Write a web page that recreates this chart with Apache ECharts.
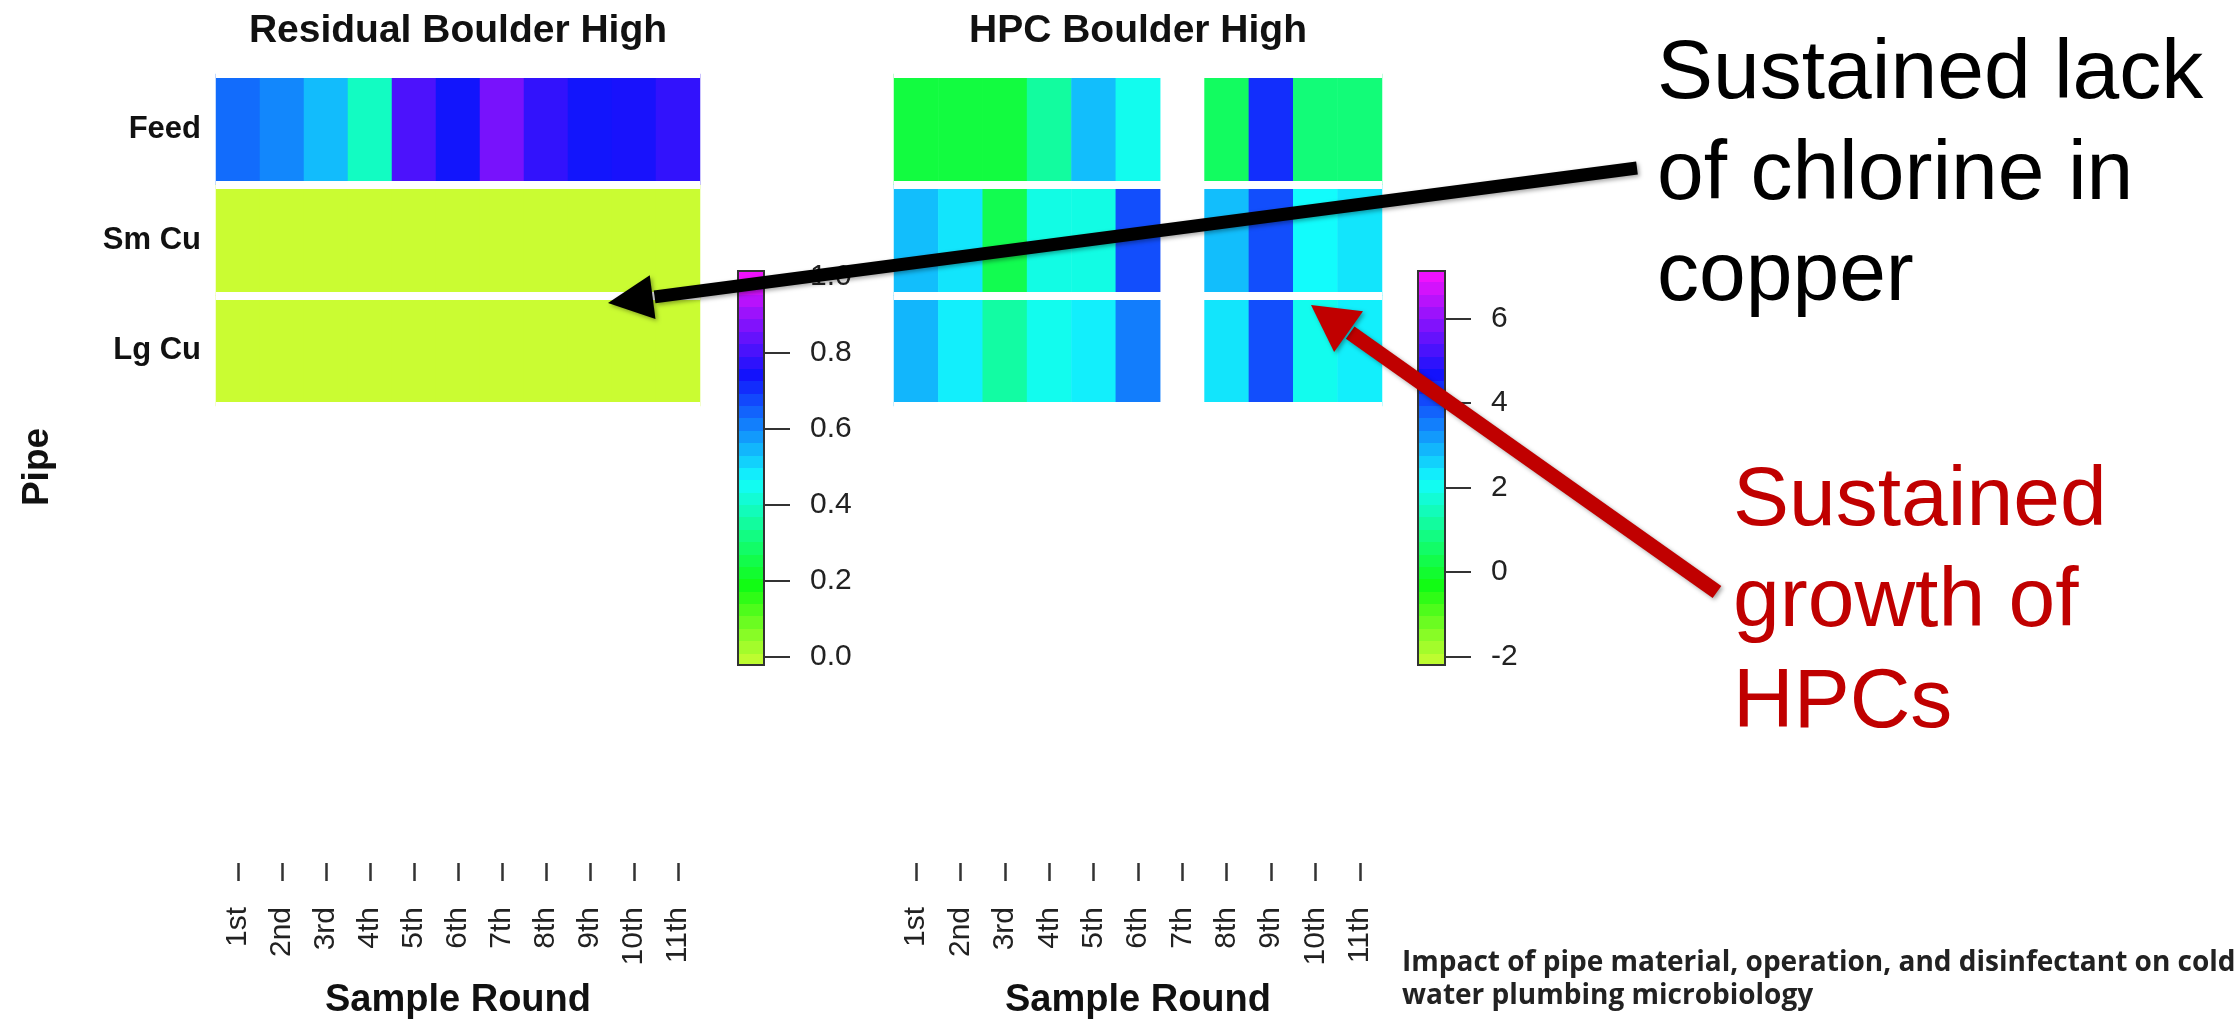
<!DOCTYPE html>
<html>
<head>
<meta charset="utf-8">
<script src="https://cdn.jsdelivr.net/npm/echarts@6/dist/echarts.min.js"></script>
<style>
html,body{margin:0;padding:0;background:#fff;}
#chart{width:2239px;height:1021px;}
</style>
</head>
<body>
<div id="chart"></div>
<script>
// ---------------- data ----------------
const rounds = ['1st','2nd','3rd','4th','5th','6th','7th','8th','9th','10th','11th'];
const pipes = ['Feed','Sm Cu','Lg Cu'];

const residualFeed = [0.63,0.60,0.54,0.40,0.80,0.73,0.85,0.77,0.73,0.74,0.77];
const residualSmCu = [0,0,0,0,0,0,0,0,0,0,0];
const residualLgCu = [0,0,0,0,0,0,0,0,0,0,0];

const hpcFeed = [0.16,0.16,0.16,1.16,2.82,2.0,null,0.5,4.34,0.75,0.75];
const hpcSmCu = [2.82,2.4,0.33,1.9,1.9,4.0,null,2.82,4.0,2.15,2.4];
const hpcLgCu = [2.9,2.3,1.2,2.0,2.3,3.5,null,2.4,4.0,2.0,2.3];

const residualTicks = [0,0.2,0.4,0.6,0.8,1.0];
const hpcTicks = [-2,0,2,4,6];

const residualRange = [-0.022, 1.016];
const hpcRange = [-2.2, 7.13];

// ---------------- colour scale ----------------
function hsv(h, s, v) {
  const f = n => { const k = (n + h / 60) % 6; return v - v * s * Math.max(0, Math.min(k, 4 - k, 1)); };
  const to = x => Math.round(x * 255).toString(16).padStart(2, '0');
  return '#' + to(f(5)) + to(f(3)) + to(f(1));
}
function cmap(t) {
  t = Math.max(0, Math.min(1, t));
  return hsv(75 + 225 * t, 0.8 + 0.13 * Math.min(1, t / 0.2), 0.99);
}
const paletteSteps = [];
for (let i = 0; i <= 45; i++) paletteSteps.push(cmap(i / 45));

function bandGradient(nBands) {
  const stops = [];
  for (let i = 0; i < nBands; i++) {
    const c = cmap((i + 0.5) / nBands);
    stops.push({offset: i / nBands, color: c});
    stops.push({offset: (i + 1) / nBands, color: c});
  }
  return {type: 'linear', x: 0, y: 1, x2: 0, y2: 0, colorStops: stops};
}

function toCells(rows) {
  const out = [];
  rows.forEach((row, yi) => row.forEach((v, xi) => { if (v !== null) out.push([xi, yi, v]); }));
  return out;
}

const FONT = 'Liberation Sans, Arial, sans-serif';

function heatX(gi) {
  return {
    type: 'category', gridIndex: gi, data: rounds, position: 'bottom', offset: 457,
    axisLine: {show: false},
    axisTick: {show: true, alignWithLabel: true, length: 18, lineStyle: {color: '#333', width: 2.5}},
    axisLabel: {rotate: 90, margin: 44, interval: 0, fontSize: 30, color: '#222', fontFamily: FONT},
    splitLine: {show: false},
    name: 'Sample Round', nameLocation: 'middle', nameGap: 119,
    nameTextStyle: {fontSize: 38, fontWeight: 'bold', color: '#111', fontFamily: FONT}
  };
}
function heatY(gi, showLabels) {
  return {
    type: 'category', gridIndex: gi, data: pipes, inverse: true, z: 5,
    axisLine: {show: false}, axisTick: {show: false},
    axisLabel: {show: showLabels, margin: 15, fontSize: 31, fontWeight: 'bold', color: '#111', fontFamily: FONT},
    splitLine: {show: true, lineStyle: {color: '#ffffff', width: 8}}
  };
}
function barX(gi) {
  return {type: 'category', gridIndex: gi, data: [''], show: false};
}
function barY(gi, range, ticks, fmt) {
  return {
    type: 'value', gridIndex: gi, position: 'right', min: range[0], max: range[1],
    axisLine: {show: false},
    axisTick: {show: true, customValues: ticks, length: 26, lineStyle: {color: '#333', width: 2}},
    axisLabel: {customValues: ticks, formatter: fmt, margin: 46, fontSize: 30, color: '#222', fontFamily: FONT},
    splitLine: {show: false}
  };
}

function arrow(tail, tip, headLen, headHalf, color, width) {
  const dx = tail[0] - tip[0], dy = tail[1] - tip[1];
  const L = Math.hypot(dx, dy), ux = dx / L, uy = dy / L;
  const bx = tip[0] + ux * headLen, by = tip[1] + uy * headLen;
  const px = -uy, py = ux;
  const shadow = {shadowBlur: 4, shadowColor: 'rgba(0,0,0,0.35)', shadowOffsetX: 2, shadowOffsetY: 2};
  return [
    {type: 'line', z: 100, shape: {x1: tail[0], y1: tail[1], x2: bx + ux * 2, y2: by + uy * 2},
     style: Object.assign({stroke: color, lineWidth: width, lineCap: 'butt'}, shadow)},
    {type: 'polygon', z: 101, shape: {points: [[tip[0], tip[1]],
      [bx + px * headHalf, by + py * headHalf], [bx - px * headHalf, by - py * headHalf]]},
     style: Object.assign({fill: color}, shadow)}
  ];
}

const chart = echarts.init(document.getElementById('chart'));
const option = {
  animation: false,
  backgroundColor: '#ffffff',
  grid: [
    {left: 216, top: 74, width: 484, height: 334},
    {left: 894, top: 74, width: 488, height: 334},
    {left: 738, top: 271, width: 26, height: 394, show: true, borderColor: '#333', borderWidth: 2, backgroundColor: bandGradient(32)},
    {left: 1418, top: 271, width: 27, height: 394, show: true, borderColor: '#333', borderWidth: 2, backgroundColor: bandGradient(32)}
  ],
  xAxis: [heatX(0), heatX(1), barX(2), barX(3)],
  yAxis: [heatY(0, true), heatY(1, false),
          barY(2, residualRange, residualTicks, v => Number(v).toFixed(1)),
          barY(3, hpcRange, hpcTicks, v => String(Math.round(v)))],
  visualMap: [
    {show: false, type: 'continuous', seriesIndex: 0, min: 0, max: 1, inRange: {color: paletteSteps}},
    {show: false, type: 'continuous', seriesIndex: 1, min: hpcRange[0], max: hpcRange[1], inRange: {color: paletteSteps}}
  ],
  series: [
    {type: 'heatmap', xAxisIndex: 0, yAxisIndex: 0, data: toCells([residualFeed, residualSmCu, residualLgCu]),
     emphasis: {disabled: true}, itemStyle: {borderWidth: 0}},
    {type: 'heatmap', xAxisIndex: 1, yAxisIndex: 1, data: toCells([hpcFeed, hpcSmCu, hpcLgCu]),
     emphasis: {disabled: true}, itemStyle: {borderWidth: 0}}
  ],
  graphic: [
    {type: 'text', x: 458, y: 31, style: {text: 'Residual Boulder High', font: 'bold 39px ' + FONT, fill: '#111', align: 'center', verticalAlign: 'middle'}},
    {type: 'text', x: 1138, y: 31, style: {text: 'HPC Boulder High', font: 'bold 39px ' + FONT, fill: '#111', align: 'center', verticalAlign: 'middle'}},
    {type: 'text', x: 38, y: 467, rotation: Math.PI / 2, style: {text: 'Pipe', font: 'bold 37px ' + FONT, fill: '#111', align: 'center', verticalAlign: 'middle'}},
    {type: 'text', x: 1657, y: 24, z: 90, style: {text: 'Sustained lack\nof chlorine in\ncopper', font: '84px ' + FONT, lineHeight: 101, fill: '#000', align: 'left', verticalAlign: 'top'}},
    {type: 'text', x: 1733, y: 451, z: 90, style: {text: 'Sustained\ngrowth of\nHPCs', font: '84px ' + FONT, lineHeight: 101, fill: '#c00000', align: 'left', verticalAlign: 'top'}},
    {type: 'text', x: 1402, y: 947, style: {text: 'Impact of pipe material, operation, and disinfectant on cold\nwater plumbing microbiology', font: 'bold 28px "Open Sans", sans-serif', lineHeight: 33, fill: '#222', align: 'left', verticalAlign: 'top'}}
  ].concat(arrow([1637, 168], [608, 303], 45, 22, '#000000', 13))
   .concat(arrow([1717, 592], [1311, 305], 46, 25, '#c00000', 15))
};
chart.setOption(option);
</script>
</body>
</html>
